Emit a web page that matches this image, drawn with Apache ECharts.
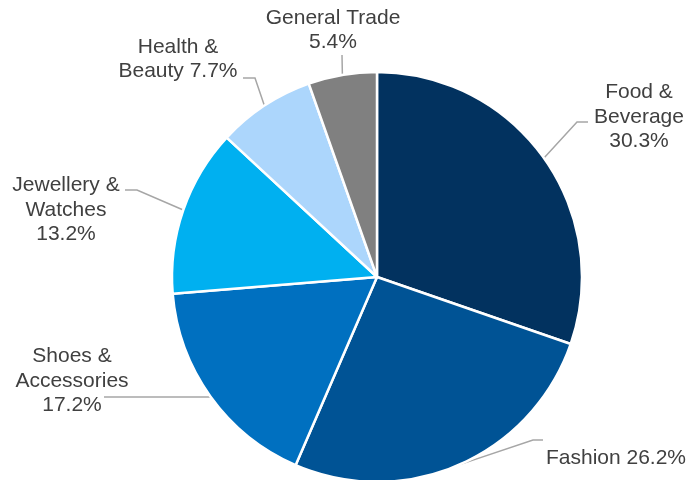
<!DOCTYPE html>
<html><head><meta charset="utf-8">
<script src="https://cdn.jsdelivr.net/npm/echarts@6/dist/echarts.min.js"></script>
<style>html,body{margin:0;padding:0;background:#fff}#c{width:690px;height:480px}</style>
</head><body><div id="c"></div>
<script>
var categories = ['Food & Beverage','Fashion','Shoes & Accessories','Jewellery & Watches','Health & Beauty','General Trade'];
var values = [30.3, 26.2, 17.2, 13.2, 7.7, 5.4];
var labelTexts = ['Food &\nBeverage\n30.3%','Fashion 26.2%','Shoes &\nAccessories\n17.2%','Jewellery &\nWatches\n13.2%','Health &\nBeauty 7.7%','General Trade\n5.4%'];
var colors = ['#02325f','#005395','#0070c0','#00b0f0','#acd6fc','#808080'];
var labelPos = [[639,117],[616,458],[72,381],[66,210],[178,59],[333,30]];
// leader-line bend and end points (after the slice-edge start)
var linePts = [
  [[577,122],[588,122]],
  [[533,440],[543,440]],
  [[104,397]],
  [[137,190],[125,190]],
  [[255,78],[243,78]],
  [[342,55]]
];

var chart = echarts.init(document.getElementById('c'));
chart.setOption({
  animation:false,
  series:[{
    type:'pie',
    center:[377,277],
    radius:205,
    startAngle:90,
    clockwise:true,
    data: categories.map(function(n,i){return {name:n,value:values[i],itemStyle:{color:colors[i]}};}),
    itemStyle:{borderColor:'#fff',borderWidth:2.5},
    label:{
      show:true,
      formatter:function(p){return labelTexts[p.dataIndex];},
      fontFamily:'Liberation Sans, Arial, sans-serif',
      fontSize:21,
      lineHeight:24.5,
      color:'#404040',
      align:'center'
    },
    labelLine:{show:true,length:15,length2:10,lineStyle:{color:'#a6a6a6',width:1.5}},
    labelLayout:function(p){
      var i = p.dataIndex;
      var pos = labelPos[i];
      var start = p.labelLinePoints ? p.labelLinePoints[0] : null;
      var out = {x:pos[0],y:pos[1],align:'center',verticalAlign:'middle'};
      if (start) {
        var s = [start[0], start[1]];
        if (i === 2) s = [210, 397];
        out.labelLinePoints = [s].concat(linePts[i]);
        if (out.labelLinePoints.length === 2) out.labelLinePoints.splice(1,0,[(s[0]+linePts[i][0][0])/2,(s[1]+linePts[i][0][1])/2]);
      }
      return out;
    }
  }]
});
</script></body></html>
